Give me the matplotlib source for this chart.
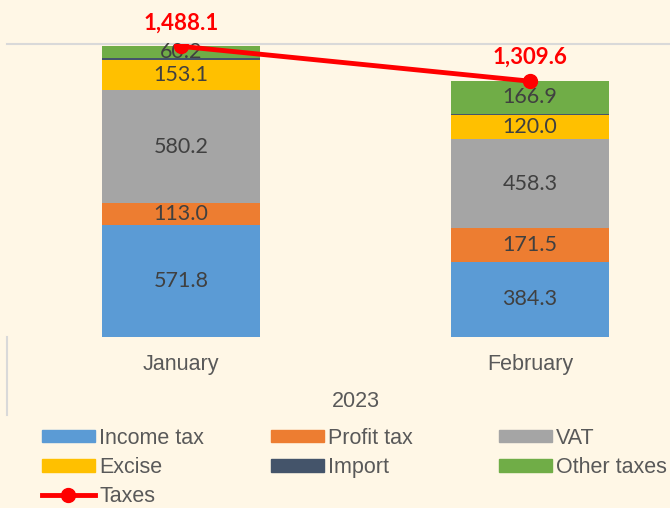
import matplotlib.pyplot as plt
from matplotlib.lines import Line2D
from matplotlib.patches import Patch

# data
months = ['January', 'February']
year = '2023'
income_tax = [571.8, 384.3]
profit_tax = [113.0, 171.5]
vat = [580.2, 458.3]
excise = [153.1, 120.0]
import_tax = [9.8, 8.6]
other_taxes = [60.2, 166.9]
taxes_total = [1488.1, 1309.6]

series = [
    ('Income tax', income_tax, '#5B9BD5', True),
    ('Profit tax', profit_tax, '#ED7D31', True),
    ('VAT', vat, '#A5A5A5', True),
    ('Excise', excise, '#FFC000', True),
    ('Import', import_tax, '#44546A', False),
    ('Other taxes', other_taxes, '#70AD47', True),
]

bg = '#FFF7E6'
txt = '#595959'
lab_font = ['Liberation Sans', 'DejaVu Sans']
num_font = ['Lato', 'DejaVu Sans']

fig = plt.figure(figsize=(6.7, 5.08), dpi=100, facecolor=bg)
W, H = 670, 508
ax = fig.add_axes([6.5 / W, 1 - 337 / H, 698 / W, 293 / H])
ax.set_facecolor(bg)

x = [0, 1]
bottom = [0.0, 0.0]
handles = {}
for name, vals, col, show in series:
    bars = ax.bar(x, vals, width=0.453, bottom=bottom, color=col, label=name, zorder=2)
    if show:
        ax.bar_label(bars, labels=['%.1f' % v for v in vals], label_type='center',
                     color='#404040', fontsize=15.5, family=num_font)
    bottom = [b + v for b, v in zip(bottom, vals)]
    handles[name] = Patch(color=col)

ax.plot(x, taxes_total, color='#FF0000', lw=3.5, marker='o', ms=10, zorder=4)
for xi, v in zip(x, taxes_total):
    ax.annotate(f'{v:,.1f}', (xi, v), xytext=(0, 17), textcoords='offset points',
                ha='center', va='center', color='#FF0000', fontsize=16,
                fontweight='bold', family=num_font)
handles['Taxes'] = Line2D([], [], color='#FF0000', lw=3.5, marker='o', ms=10)

ax.set_xlim(-0.5, 1.5)
ax.set_ylim(0, 1500)
ax.set_yticks([])
ax.set_xticks(x)
ax.set_xticklabels(months, fontsize=15.5, color=txt, family=lab_font)
ax.tick_params(axis='x', length=0, pad=12)
for s in ['left', 'right', 'bottom']:
    ax.spines[s].set_visible(False)
ax.spines['top'].set_color('#D9D9D9')
ax.spines['top'].set_linewidth(1.5)

# group label and separator
ax.text(0.5, -0.22, year, transform=ax.get_xaxis_transform(), ha='center', va='center',
        fontsize=15.5, color=txt, family=lab_font)
ax.add_line(Line2D([0.001, 0.001], [0, -78 / 293], transform=ax.transAxes,
                   color='#D9D9D9', lw=1.5, clip_on=False))

# legend, one per column
cols = [['Income tax', 'Excise', 'Taxes'], ['Profit tax', 'Import'], ['VAT', 'Other taxes']]
xs = [42, 271, 499]
for names, xl in zip(cols, xs):
    leg = fig.legend([handles[n] for n in names], names, loc='upper left',
                     bbox_to_anchor=(xl / W, 1 - 428 / H), frameon=False,
                     prop={'family': lab_font, 'size': 15.5}, labelcolor=txt,
                     handlelength=2.45, handleheight=0.5, handletextpad=0.2,
                     labelspacing=0.38, borderpad=0, borderaxespad=0)

fig.savefig('out.png', dpi=100, facecolor=bg)
